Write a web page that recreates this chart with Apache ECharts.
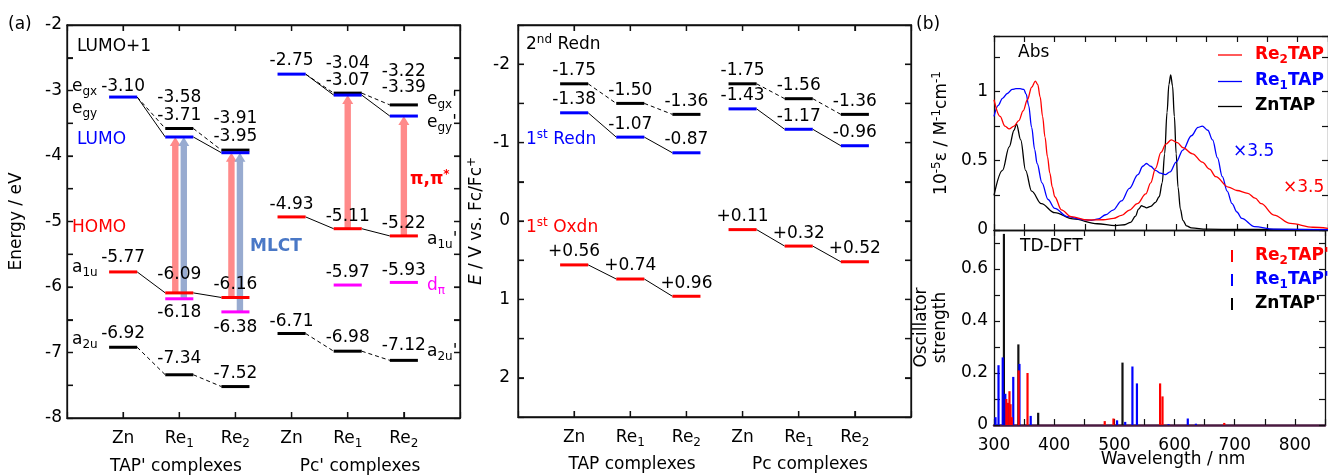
<!DOCTYPE html>
<html><head><meta charset="utf-8">
<script src="https://cdn.jsdelivr.net/npm/echarts@6.0.0/dist/echarts.min.js"></script>
<style>html,body{margin:0;padding:0;background:#fff;overflow:hidden}#c{width:1328px;height:476px}</style>
</head><body><div id="c"></div>
<script>
// ---------------- data ----------------
// (a) left: calculated orbital energies (eV)
const CATS_A  = ['Zn', 'Re1', 'Re2', 'Zn', 'Re1', 'Re2'];   // TAP' complexes | Pc' complexes
const LUMO_A  = [-3.10, -3.71, -3.95, -2.75, -3.07, -3.39];
const LUMO1_A = [null, -3.58, -3.91, null, -3.04, -3.22];
const HOMO_A  = [-5.77, -6.09, -6.16, -4.93, -5.11, -5.22];
const DPI_A   = [null, -6.18, -6.38, null, -5.97, -5.93];
const A2U_A   = [-6.92, -7.34, -7.52, -6.71, -6.98, -7.12];
// (a) right: redox potentials (V vs Fc/Fc+)
const CATS_E  = ['Zn', 'Re1', 'Re2', 'Zn', 'Re1', 'Re2'];   // TAP complexes | Pc complexes
const REDN2_E = [-1.75, -1.50, -1.36, -1.75, -1.56, -1.36];
const REDN1_E = [-1.38, -1.07, -0.87, -1.43, -1.17, -0.96];
const OXDN1_E = [0.56, 0.74, 0.96, 0.11, 0.32, 0.52];
// (b) absorption spectra [nm, 1e-5 eps]
const ABS_RE2 = [[300,0.94],[310,0.82],[318,0.75],[325,0.73],[333,0.75],[341,0.79],[348,0.86],[355,0.94],[362,1.03],[368,1.075],[372,1.05],[376,0.96],[380,0.82],[384,0.67],[388,0.53],[392,0.41],[396,0.31],[400,0.24],[411,0.145],[427,0.096],[454,0.072],[480,0.074],[497,0.084],[510,0.105],[523,0.144],[536,0.19],[550,0.26],[558,0.34],[566,0.445],[575,0.56],[583,0.62],[592,0.65],[602,0.63],[611,0.595],[627,0.55],[643,0.49],[655,0.44],[665,0.385],[686,0.31],[700,0.285],[718,0.265],[730,0.23],[740,0.19],[761,0.108],[788,0.048],[825,0.02],[850,0.012]];
const ABS_RE1 = [[300,0.82],[307,0.9],[314,0.95],[322,0.985],[330,1.015],[336,1.02],[343,1.02],[349,1.015],[353,0.98],[357,0.9],[362,0.74],[367,0.58],[371,0.48],[379,0.34],[389,0.22],[400,0.156],[421,0.096],[445,0.075],[460,0.07],[472,0.08],[484,0.11],[496,0.144],[510,0.21],[523,0.3],[537,0.4],[545,0.46],[551,0.48],[558,0.46],[566,0.43],[574,0.41],[582,0.4],[590,0.42],[600,0.49],[611,0.577],[625,0.68],[636,0.74],[643,0.75],[652,0.72],[660,0.65],[668,0.52],[676,0.385],[684,0.28],[692,0.19],[700,0.13],[708,0.084],[729,0.025],[760,0.006],[850,0.002]];
const ABS_ZN  = [[300,0.25],[314,0.43],[325,0.6],[333,0.72],[337,0.765],[344,0.65],[352,0.43],[362,0.28],[378,0.19],[400,0.125],[430,0.08],[470,0.045],[500,0.032],[515,0.038],[525,0.055],[533,0.1],[538,0.15],[543,0.175],[547,0.168],[551,0.16],[558,0.17],[566,0.2],[572,0.24],[577,0.34],[581,0.55],[585,0.85],[588,1.05],[591,1.12],[594,1.04],[597,0.82],[600,0.55],[603,0.31],[607,0.15],[611,0.07],[617,0.03],[625,0.015],[650,0.006],[700,0.004],[850,0.002]];
// (b) TD-DFT oscillator strengths [nm, f]
const OSC_RE2 = [[320.5,0.1],[322.5,0.085],[325.7,0.13],[327.5,0.08],[329.5,0.03],[341,0.21],[355.7,0.2],[484,0.015],[498.5,0.025],[576,0.16],[580,0.11],[682.6,0.008]];
const OSC_RE1 = [[302.5,0.03],[307.5,0.23],[314.5,0.26],[318.8,0.12],[323.5,0.085],[332,0.185],[342.3,0.235],[361,0.035],[504.5,0.018],[518,0.012],[530,0.225],[537.5,0.16],[590,0.003],[622,0.025],[635.5,0.005]];
const OSC_ZN  = [[316.5,0.735],[340.5,0.31],[373.4,0.047],[513.5,0.24]];

// ---------------- styles ----------------
const F = '"DejaVu Sans", "Liberation Sans", sans-serif';
const FS = 17;
const RED = '#ff0000', BLUE = '#0000ff', MAG = '#ff00ff', BLK = '#000000';
const MLCT_C = '#4a78c6';
// label offsets (px) of the value texts relative to their level bar
const LUMO_DY  = [-10, -21, -16, -14, -15, -28];
const LUMO1_DY = [0, -31, -32, 0, -30, -33];
const HOMO_DY  = [-14, -18, -13, -12, -12, -12];
const DPI_DY   = [0, 14, 16, 0, -12, -12];
const A2U_DY   = [-14, -16, -13, -12, -14, -15];
const E_DY     = [-13, -13, -13, -13, -13, -13];

function ecRich(color, size, weight) {
  const sub = Math.round(size * 0.7);
  return {
    n: {color, fontSize: size, fontFamily: F, fontWeight: weight, lineHeight: 22},
    s: {color, fontSize: sub, fontFamily: F, fontWeight: weight, verticalAlign: 'bottom', lineHeight: 10},
    p: {color, fontSize: sub, fontFamily: F, fontWeight: weight, verticalAlign: 'top', lineHeight: 10},
    i: {color, fontSize: size, fontFamily: F, fontWeight: weight, fontStyle: 'italic', lineHeight: 22}
  };
}
function zrRich(color, size, weight) {
  const sub = Math.round(size * 0.7);
  return {
    n: {fill: color, fontSize: size, fontFamily: F, fontWeight: weight, lineHeight: 22},
    s: {fill: color, fontSize: sub, fontFamily: F, fontWeight: weight, verticalAlign: 'bottom', lineHeight: 10},
    p: {fill: color, fontSize: sub, fontFamily: F, fontWeight: weight, verticalAlign: 'top', lineHeight: 10}
  };
}
function T(x, y, text, o) {
  o = o || {};
  const size = o.size || FS, color = o.color || BLK, weight = o.bold ? 'bold' : 'normal';
  return {type: 'text', x, y, z: 100, silent: true,
    style: {text, fill: color, fontSize: size, fontFamily: F, fontWeight: weight,
      align: o.align || 'left', verticalAlign: 'middle', lineHeight: 22, rich: zrRich(color, size, weight)}};
}
function catLabel(c) {
  const m = c.match(/^(\D+)(\d+)$/);
  return m ? '{n|' + m[1] + '}{s|' + m[2] + '}' : '{n|' + c + '}';
}
const near = (a, b) => Math.abs(a - b) < 1e-6;

// ---------------- axes ----------------
const AXLINE = {show: true, onZero: false, lineStyle: {color: '#111', width: 1.3}};
const TICK = {show: true, inside: true, length: 6, lineStyle: {color: '#111', width: 1.2}};
function axPair(kind, grid, min, max, interval, labelFn, extra, inverse) {
  const base = {type: 'value', gridIndex: grid, min, max, interval, inverse: !!inverse,
    splitLine: {show: false}, axisLine: AXLINE, axisTick: TICK};
  const pos = kind === 'x' ? ['bottom', 'top'] : ['left', 'right'];
  const main = Object.assign({}, base, {position: pos[0],
    axisLabel: labelFn ? {show: true, formatter: labelFn, color: BLK, fontSize: FS, fontFamily: F,
      margin: kind === 'x' ? 10 : 6, rich: ecRich(BLK, FS, 'normal')} : {show: false}}, extra || {});
  const mirror = Object.assign({}, base, {position: pos[1], axisLabel: {show: false}});
  return [main, mirror];
}
const catFmt = cats => v => {
  const r = Math.round(v);
  if (!near(v, r) || r < 1 || r > cats.length) return '';
  return catLabel(cats[r - 1]);
};
const intFmt = v => near(v, Math.round(v)) ? '{n|' + Math.round(v) + '}' : '';

const X_RANGE_A = [0, 7], Y_RANGE_A = [-8, -2], Y_RANGE_E = [-2.5, 2.5];
const xAxes = [
  ...axPair('x', 0, X_RANGE_A[0], X_RANGE_A[1], 1, catFmt(CATS_A)),
  ...axPair('x', 1, X_RANGE_A[0], X_RANGE_A[1], 1, catFmt(CATS_E)),
  ...axPair('x', 2, 300, 850, 50, null),
  ...axPair('x', 3, 300, 850, 50, v => near(v / 100, Math.round(v / 100)) ? '{n|' + v + '}' : '',
    {axisLine: {show: true, onZero: false, lineStyle: {color: '#4a1a40', width: 2.5}}})
];
const yAxes = [
  ...axPair('y', 0, Y_RANGE_A[0], Y_RANGE_A[1], 0.5, intFmt, {name: 'Energy / eV', nameLocation: 'middle', nameGap: 42,
    nameTextStyle: {color: BLK, fontSize: FS, fontFamily: F},
    axisLabel: {show: true, formatter: intFmt, margin: 5, rich: ecRich(BLK, FS, 'normal')}}),
  ...axPair('y', 1, Y_RANGE_E[0], Y_RANGE_E[1], 0.5, intFmt, {name: '{i|E}{n| / V vs. Fc/Fc}{p|+}', nameLocation: 'middle', nameGap: 30,
    nameTextStyle: {color: BLK, fontSize: FS, fontFamily: F, rich: ecRich(BLK, FS, 'normal')},
    axisLabel: {show: true, formatter: intFmt, margin: 8, rich: ecRich(BLK, FS, 'normal')}}, true),
  ...axPair('y', 2, 0, 1.4, 0.25, v => (near(v * 2, Math.round(v * 2)) && v < 1.1) ? '{n|' + (+v.toFixed(2)) + '}' : '',
    {name: '{n|10}{p|-5}{n|ε / M}{p|-1}{n|cm}{p|-1}', nameLocation: 'middle', nameGap: 41,
     nameTextStyle: {color: BLK, fontSize: FS, fontFamily: F, rich: ecRich(BLK, FS, 'normal')}}),
  ...axPair('y', 3, 0, 0.75, 0.1, v => (near(v * 5, Math.round(v * 5)) && v < 0.7) ? '{n|' + (+v.toFixed(1)) + '}' : '',
    {name: 'Oscillator\nstrength', nameLocation: 'middle', nameGap: 44,
     nameTextStyle: {color: BLK, fontSize: FS, fontFamily: F, lineHeight: 19}})
];
const AX = g => ({xAxisIndex: 2 * g, yAxisIndex: 2 * g});

// ---------------- series builders ----------------
const PAIRS = [[0, 1], [1, 2], [3, 4], [4, 5]];
function levels(g, vals, color, dys, fmt) {
  const data = [];
  vals.forEach((v, i) => { if (v !== null) data.push([i + 1, v, dys[i]]); });
  return Object.assign({type: 'custom', z: 6, data,
    renderItem: (p, api) => {
      const x = api.value(0), v = api.value(1), dy = api.value(2);
      const a = api.coord([x - 0.25, v]), b = api.coord([x + 0.25, v]);
      return {type: 'group', children: [
        {type: 'line', shape: {x1: a[0], y1: a[1], x2: b[0], y2: b[1]}, style: {stroke: color, lineWidth: 3}},
        {type: 'text', x: (a[0] + b[0]) / 2, y: a[1] + dy,
          style: {text: fmt(v), fill: BLK, fontSize: FS, fontFamily: F, align: 'center', verticalAlign: 'middle'}}
      ]};
    }}, AX(g));
}
function links(g, from, to, dashed) {
  const data = PAIRS.filter(([i, j]) => from[i] !== null && to[j] !== null)
    .map(([i, j]) => [i + 1, from[i], j + 1, to[j]]);
  return Object.assign({type: 'custom', z: 4, data,
    renderItem: (p, api) => {
      const a = api.coord([api.value(0) + 0.25, api.value(1)]);
      const b = api.coord([api.value(2) - 0.25, api.value(3)]);
      return {type: 'line', shape: {x1: a[0], y1: a[1], x2: b[0], y2: b[1]},
        style: {stroke: '#000', lineWidth: 1, lineDash: dashed ? [4, 3] : null}};
    }}, AX(g));
}
function arrows(g, idx, from, to, color, dxs) {
  const data = idx.map((i, k) => [i + 1, from[i], to[i], dxs[k]]);
  return Object.assign({type: 'custom', z: 2, data,
    renderItem: (p, api) => {
      const pb = api.coord([api.value(0), api.value(1)]);
      const pt = api.coord([api.value(0), api.value(2)]);
      const X = pb[0] + api.value(3);
      return {type: 'group', children: [
        {type: 'rect', shape: {x: X - 3.2, y: pt[1] + 8, width: 6.4, height: pb[1] - pt[1] - 8}, style: {fill: color}},
        {type: 'polygon', shape: {points: [[X - 5.5, pt[1] + 9], [X + 5.5, pt[1] + 9], [X, pt[1]]]}, style: {fill: color}}
      ]};
    }}, AX(g));
}
// frame + inside ticks of panels (a), drawn through the panel's own scales
function frame(g, xr, yr, xStep, yStep) {
  return Object.assign({type: 'custom', z: 8, silent: true, data: [[xr[0], yr[0]]],
    renderItem: (p, api) => {
      const c00 = api.coord([xr[0], yr[0]]), c11 = api.coord([xr[1], yr[1]]);
      const L = Math.min(c00[0], c11[0]), R = Math.max(c00[0], c11[0]);
      const Tp = Math.min(c00[1], c11[1]), B = Math.max(c00[1], c11[1]);
      const st = {stroke: '#111', lineWidth: 1.3, fill: null};
      const kids = [{type: 'rect', shape: {x: L, y: Tp, width: R - L, height: B - Tp}, style: st}];
      for (let x = xr[0] + xStep; x < xr[1] - 1e-9; x += xStep) {
        const px = api.coord([x, yr[0]])[0];
        kids.push({type: 'line', shape: {x1: px, y1: B, x2: px, y2: B - 6}, style: st});
        kids.push({type: 'line', shape: {x1: px, y1: Tp, x2: px, y2: Tp + 6}, style: st});
      }
      for (let y = yr[0] + yStep; y < yr[1] - 1e-9; y += yStep) {
        const py = api.coord([xr[0], y])[1];
        kids.push({type: 'line', shape: {x1: L, y1: py, x2: L + 6, y2: py}, style: st});
        kids.push({type: 'line', shape: {x1: R, y1: py, x2: R - 6, y2: py}, style: st});
      }
      return {type: 'group', children: kids};
    }}, AX(g));
}
function sticks(g, data, color) {
  return Object.assign({type: 'custom', z: 3, data,
    renderItem: (p, api) => {
      const a = api.coord([api.value(0), 0]), b = api.coord([api.value(0), api.value(1)]);
      return {type: 'rect', shape: {x: a[0] - 1.1, y: b[1], width: 2.2, height: a[1] - b[1]}, style: {fill: color}};
    }}, AX(g));
}
function absLine(data, color) {
  return Object.assign({type: 'line', data, showSymbol: false, smooth: 0.35, smoothMonotone: 'x',
    lineStyle: {color, width: 1.3}, z: 3, silent: true}, AX(2));
}
const f2 = v => v.toFixed(2);
const fOx = v => '+' + v.toFixed(2);
const withFallback = (a, b) => a.map((v, i) => v === null ? b[i] : v);

const series = [
  // panel (a) left
  frame(0, X_RANGE_A, Y_RANGE_A, 1, 0.5),
  arrows(0, [1, 2, 4, 5], HOMO_A, LUMO_A, '#ff8a8a', [-4, -4, 0, 0]),
  arrows(0, [1, 2], DPI_A, LUMO_A, '#98abd0', [4.5, 4.5]),
  links(0, LUMO_A, LUMO_A, false),
  links(0, withFallback(LUMO1_A, LUMO_A), LUMO1_A, true),
  links(0, HOMO_A, HOMO_A, false),
  links(0, A2U_A, A2U_A, true),
  levels(0, LUMO1_A, BLK, LUMO1_DY, f2),
  levels(0, LUMO_A, BLUE, LUMO_DY, f2),
  levels(0, HOMO_A, RED, HOMO_DY, f2),
  levels(0, DPI_A, MAG, DPI_DY, f2),
  levels(0, A2U_A, BLK, A2U_DY, f2),
  // panel (a) right
  frame(1, X_RANGE_A, Y_RANGE_E, 1, 0.5),
  links(1, REDN2_E, REDN2_E, true),
  links(1, REDN1_E, REDN1_E, false),
  links(1, OXDN1_E, OXDN1_E, false),
  levels(1, REDN2_E, BLK, E_DY, f2),
  levels(1, REDN1_E, BLUE, E_DY, f2),
  levels(1, OXDN1_E, RED, E_DY, fOx),
  // panel (b)
  absLine(ABS_ZN, BLK),
  absLine(ABS_RE1, BLUE),
  absLine(ABS_RE2, RED),
  sticks(3, OSC_ZN, '#111'),
  sticks(3, OSC_RE1, BLUE),
  sticks(3, OSC_RE2, RED)
];

// ---------------- annotations ----------------
const graphic = [
  T(8, 25, '(a)'),
  T(77, 47, 'LUMO+1'),
  T(72, 87, 'e{s|gx}'),
  T(72, 109, 'e{s|gy}'),
  T(77, 140, 'LUMO', {color: BLUE}),
  T(72, 228, 'HOMO', {color: RED}),
  T(72, 268, 'a{s|1u}'),
  T(72, 340, 'a{s|2u}'),
  T(427, 100, "e{s|gx}'"),
  T(427, 123, "e{s|gy}'"),
  T(427, 240, "a{s|1u}'"),
  T(427, 286, 'd{s|π}', {color: MAG}),
  T(427, 352, "a{s|2u}'"),
  T(410, 180, 'π,π{p|*}', {color: RED, bold: true}),
  T(250, 247, 'MLCT', {color: MLCT_C, bold: true}),
  T(176, 467, "TAP' complexes", {align: 'center'}),
  T(360, 467, "Pc' complexes", {align: 'center'}),
  T(526, 45, '2{p|nd} Redn'),
  T(526, 140, '1{p|st} Redn', {color: BLUE}),
  T(526, 228, '1{p|st} Oxdn', {color: RED}),
  T(632, 465, 'TAP complexes', {align: 'center'}),
  T(810, 465, 'Pc complexes', {align: 'center'}),
  T(916, 25, '(b)'),
  T(1018, 53, 'Abs'),
  T(1020, 247, 'TD-DFT'),
  T(1233, 152, '×3.5', {color: BLUE}),
  T(1283, 188, '×3.5', {color: RED}),
  T(1173, 460, 'Wavelength / nm', {align: 'center'}),
  // legends
  {type: 'line', shape: {x1: 1218, y1: 55, x2: 1242, y2: 55}, style: {stroke: RED, lineWidth: 1.3}},
  {type: 'line', shape: {x1: 1218, y1: 81.5, x2: 1242, y2: 81.5}, style: {stroke: BLUE, lineWidth: 1.3}},
  {type: 'line', shape: {x1: 1218, y1: 106.5, x2: 1242, y2: 106.5}, style: {stroke: BLK, lineWidth: 1.3}},
  T(1255, 55, 'Re{s|2}TAP', {color: RED, bold: true}),
  T(1255, 81, 'Re{s|1}TAP', {color: BLUE, bold: true}),
  T(1255, 106, 'ZnTAP', {color: BLK, bold: true}),
  {type: 'rect', shape: {x: 1231, y: 250, width: 2, height: 12}, style: {fill: RED}},
  {type: 'rect', shape: {x: 1231, y: 274, width: 2, height: 12}, style: {fill: BLUE}},
  {type: 'rect', shape: {x: 1231, y: 298, width: 2, height: 12}, style: {fill: BLK}},
  T(1255, 256, "Re{s|2}TAP'", {color: RED, bold: true}),
  T(1255, 280, "Re{s|1}TAP'", {color: BLUE, bold: true}),
  T(1255, 304, "ZnTAP'", {color: BLK, bold: true})
];

const chart = echarts.init(document.getElementById('c'), null, {renderer: 'canvas', width: 1328, height: 476});
chart.setOption({
  animation: false,
  backgroundColor: '#fff',
  grid: [
    {left: 67, top: 25, width: 393, height: 393},
    {left: 518, top: 25, width: 393, height: 392},
    {left: 994, top: 36, width: 343, height: 194},
    {left: 994, top: 230, width: 343, height: 195}
  ],
  xAxis: xAxes,
  yAxis: yAxes,
  series,
  graphic
});
</script></body></html>
